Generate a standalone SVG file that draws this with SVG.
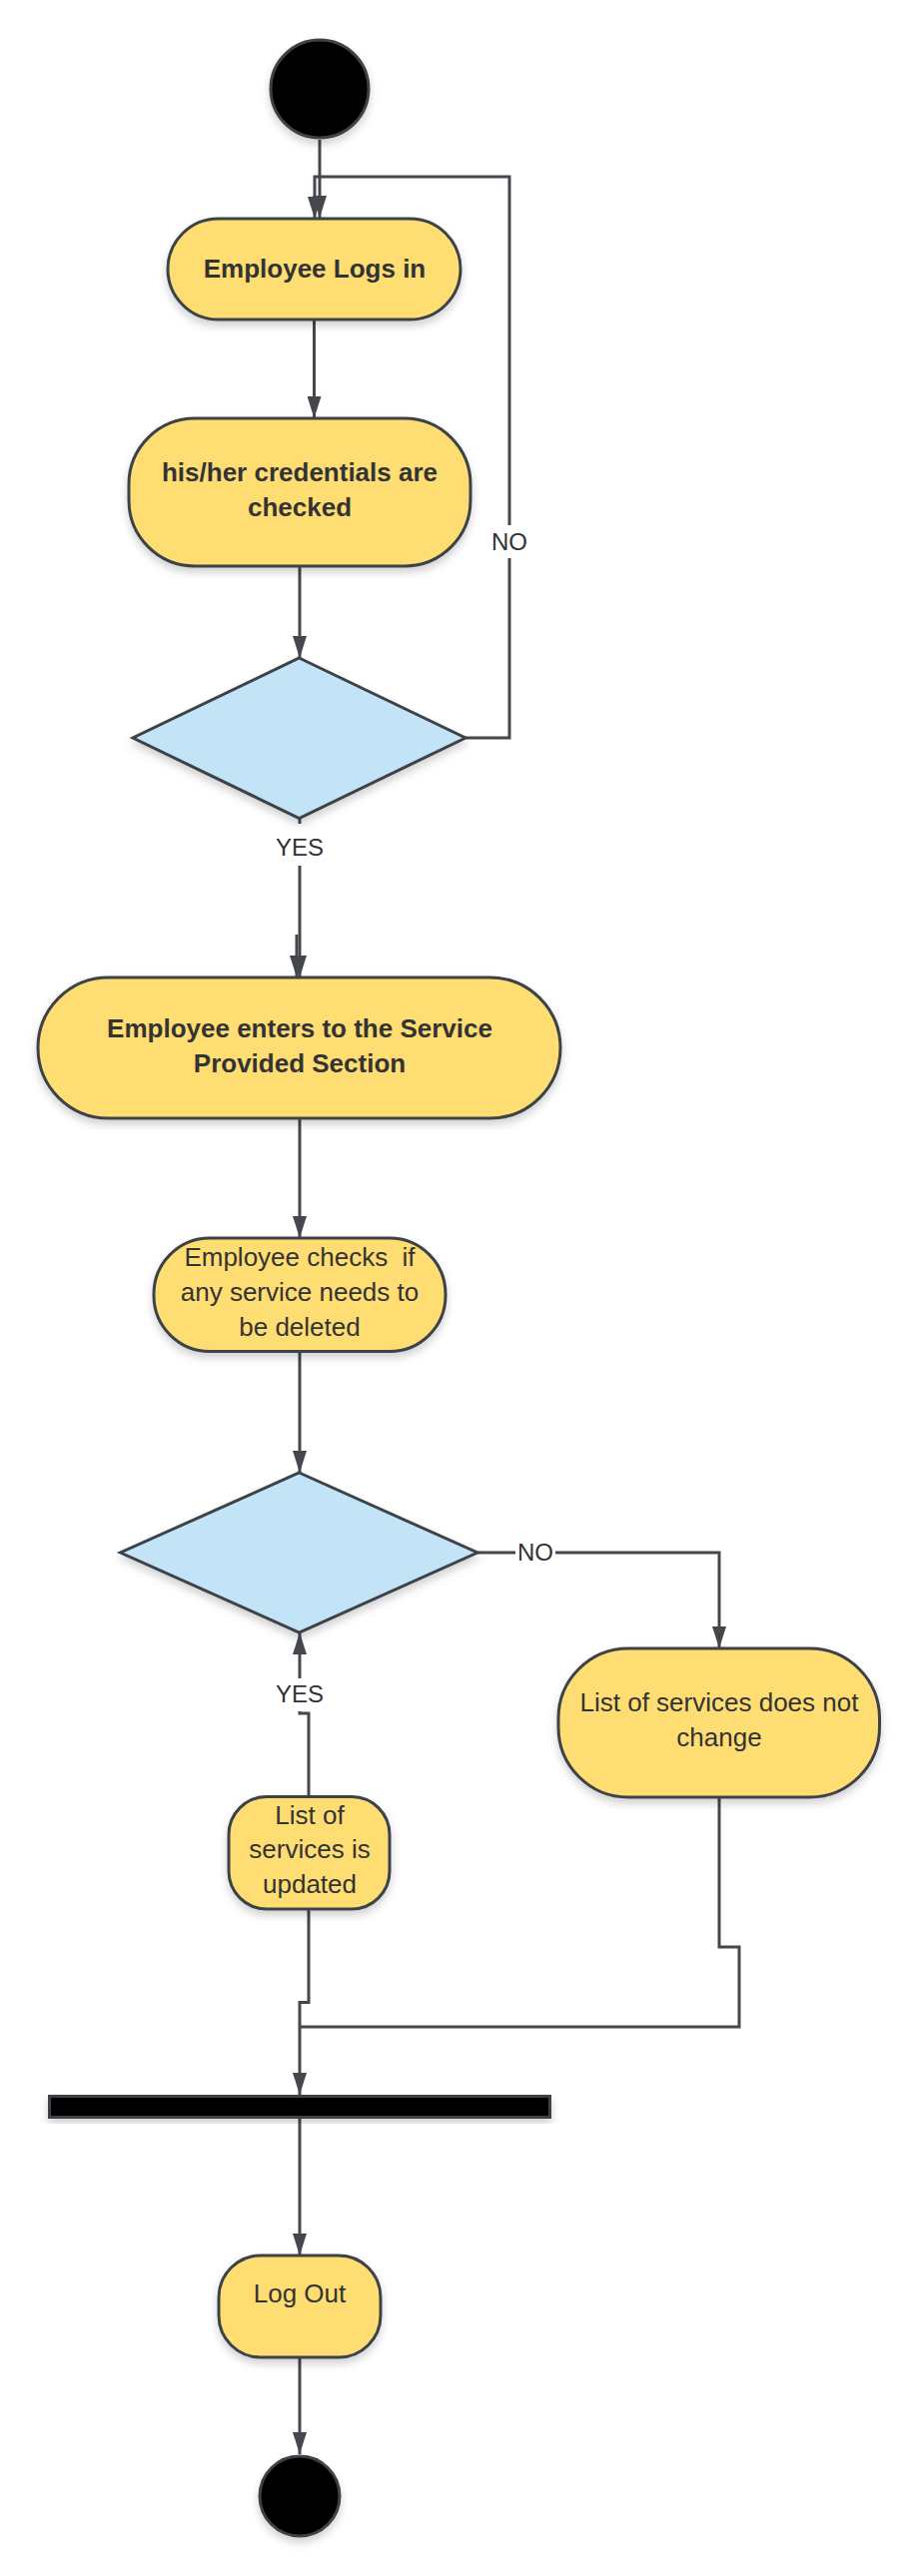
<svg xmlns="http://www.w3.org/2000/svg" width="920" height="2580" viewBox="0 0 920 2580">
<defs>
<filter id="sh" x="-20%" y="-20%" width="140%" height="150%">
<feDropShadow dx="0" dy="5" stdDeviation="4" flood-color="#000" flood-opacity="0.18"/>
</filter>
<marker id="ah" markerUnits="userSpaceOnUse" markerWidth="22" markerHeight="14" refX="22" refY="7" orient="auto">
<path d="M0,0 L22,7 L0,14 z" fill="#44474c"/>
</marker>
</defs>
<style>
.act{fill:#fedd72;stroke:#3d4249;stroke-width:3;filter:url(#sh)}
.dec{fill:#c3e4f6;stroke:#3d4249;stroke-width:3;filter:url(#sh)}
.dot{fill:#000;stroke:#3d4249;stroke-width:3;filter:url(#sh)}
.ln{fill:none;stroke:#44474c;stroke-width:3}
.t{font-family:"Liberation Sans",Arial,sans-serif;font-size:26px;fill:#333;text-anchor:middle}
.b{font-weight:bold}
.lb{font-family:"Liberation Sans",Arial,sans-serif;font-size:24px;fill:#333;text-anchor:middle}
.bg{fill:#fff}
</style>

<g id="connectors">
<path class="ln" d="M320,140 L320,218" marker-end="url(#ah)"/>
<path class="ln" d="M314.5,320 L314.5,419" marker-end="url(#ah)"/>
<path class="ln" d="M300,567 L300,659" marker-end="url(#ah)"/>
<path class="ln" d="M466,739 L510,739 L510,177 L315,177 L315,219" marker-end="url(#ah)"/>
<path class="ln" d="M300,819.5 L300,979" marker-end="url(#ah)"/>
<path class="ln" d="M297,936 L297,979" marker-end="url(#ah)"/>
<path class="ln" d="M300,1120 L300,1240" marker-end="url(#ah)"/>
<path class="ln" d="M300,1353.5 L300,1475" marker-end="url(#ah)"/>
<path class="ln" d="M478,1555 L720,1555 L720,1651" marker-end="url(#ah)"/>
<path class="ln" d="M309,1799.5 L309,1716 L300,1716 L300,1635" marker-end="url(#ah)"/>
<path class="ln" d="M309,1912 L309,2005.5 L300,2005.5 L300,2098" marker-end="url(#ah)"/>
<path class="ln" d="M720,1800 L720,1950 L740,1950 L740,2030 L300,2030"/>
<path class="ln" d="M300,2121.5 L300,2259" marker-end="url(#ah)"/>
<path class="ln" d="M300,2361 L300,2458" marker-end="url(#ah)"/>
<rect class="bg" x="490" y="526" width="40" height="33"/>
<text class="lb" x="510" y="551">NO</text>
<rect class="bg" x="278" y="825" width="44" height="42"/>
<text class="lb" x="300" y="857">YES</text>
<rect class="bg" x="516" y="1540" width="40" height="28"/>
<text class="lb" x="536" y="1563">NO</text>
<rect class="bg" x="278" y="1681" width="44" height="33"/>
<text class="lb" x="300" y="1705">YES</text>
</g>

<g id="start">
<circle class="dot" cx="320" cy="89" r="49"/>
</g>

<g id="login">
<rect class="act" x="168" y="219" width="293" height="101" rx="50.5"/>
<text class="t b" x="315" y="278">Employee Logs in</text>
</g>

<g id="credentials">
<rect class="act" x="129" y="419" width="342" height="148" rx="66"/>
<text class="t b" x="300" y="482">his/her credentials are</text>
<text class="t b" x="300" y="517">checked</text>
</g>

<g id="decision1">
<polygon class="dec" points="299.5,659 466,739 299.5,819.5 133,739"/>
</g>

<g id="enter-section">
<rect class="act" x="38" y="979" width="523" height="141" rx="70.5"/>
<text class="t b" x="300" y="1039">Employee enters to the Service</text>
<text class="t b" x="300" y="1074">Provided Section</text>
</g>

<g id="check-delete">
<rect class="act" x="154" y="1240" width="292" height="113.5" rx="56"/>
<text class="t" x="300" y="1268" xml:space="preserve">Employee checks  if</text>
<text class="t" x="300" y="1303">any service needs to</text>
<text class="t" x="300" y="1338">be deleted</text>
</g>

<g id="decision2">
<polygon class="dec" points="299.5,1475 478,1555 299.5,1635 120.5,1555"/>
</g>

<g id="no-change">
<rect class="act" x="559" y="1651" width="321.5" height="149" rx="70"/>
<text class="t" x="720" y="1714">List of services does not</text>
<text class="t" x="720" y="1749">change</text>
</g>

<g id="updated">
<rect class="act" x="229" y="1799.5" width="161" height="112.5" rx="38"/>
<text class="t" x="310" y="1827">List of</text>
<text class="t" x="310" y="1861">services is</text>
<text class="t" x="310" y="1896">updated</text>
</g>

<g id="join-bar">
<rect class="dot" x="49.5" y="2099.5" width="501" height="21"/>
</g>

<g id="logout">
<rect class="act" x="219" y="2259" width="162" height="102" rx="42"/>
<text class="t" x="300" y="2306">Log Out</text>
</g>

<g id="end">
<circle class="dot" cx="300" cy="2500" r="40"/>
</g>
</svg>
